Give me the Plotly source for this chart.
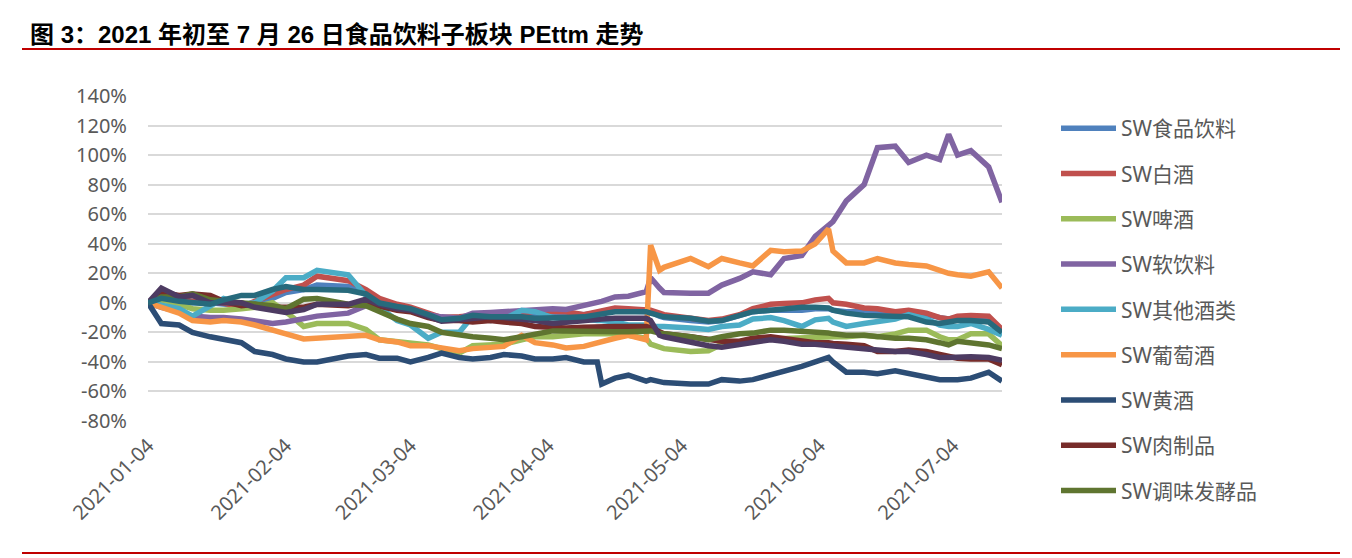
import plotly.graph_objects as go

# ---------------- data ----------------
dates = ["2021-01-04","2021-01-07","2021-01-11","2021-01-14","2021-01-18","2021-01-21","2021-01-25","2021-01-28",
         "2021-02-01","2021-02-04","2021-02-08","2021-02-11","2021-02-18","2021-02-22","2021-02-25","2021-03-01",
         "2021-03-04","2021-03-08","2021-03-11","2021-03-15","2021-03-18","2021-03-22","2021-03-25","2021-03-29",
         "2021-04-01","2021-04-05","2021-04-08","2021-04-12","2021-04-15","2021-04-16","2021-04-19","2021-04-22",
         "2021-04-26","2021-04-27","2021-04-29","2021-04-30","2021-05-06","2021-05-10","2021-05-13","2021-05-17",
         "2021-05-20","2021-05-24","2021-05-27","2021-05-31","2021-06-03","2021-06-06","2021-06-07","2021-06-10",
         "2021-06-14","2021-06-17","2021-06-21","2021-06-24","2021-06-28","2021-07-01","2021-07-03","2021-07-05",
         "2021-07-08","2021-07-12","2021-07-15"]

sw_food_bev = [0,2,1,0,0,-1,-2,0,3,7,9,12,11,7,2,-2,-4,-8,-10,-10,-9,-9,-9,-8,-7,-7,-7,-8,-7,-6,-5,-5.5,
               -6,-6,-9,-10,-12,-13,-12,-9,-6,-5,-5,-5,-4,-4,-5,-6,-6,-7,-8,-7,-8,-10,-11,-10,-10,-11,-19]
sw_baijiu = [0,4,3,1,2,0,-3,1,6,9,12,18,15,9,3,-1,-3,-7,-10,-9.5,-8.5,-8.5,-8,-7,-5.5,-5.5,-6,-8,-6,-5,-3.5,-4,
             -5,-5,-7,-8,-10.5,-12,-11,-8,-4,-1,-0.5,0,2,3,0,-1,-3.5,-4,-6,-5,-7,-10,-11,-9,-8.5,-9,-18]
sw_beer = [0,2,-1,-4,-5,-5,-4,-3,0,-6,-16,-14,-14,-18,-25,-26,-27,-28.5,-31,-34,-29,-28.5,-28,-25,-23,-23,-22,-21,
           -21,-21,-21,-22,-24,-28,-30,-31,-33,-32.5,-28,-26,-25,-24.5,-24,-23.5,-23,-23,-23,-23,-22,-23,-21,-18.5,
           -18.5,-23,-25,-25,-21,-21,-29]
sw_soft_drink = [0,-3,-6,-9,-10,-10,-11,-12,-14,-13,-11,-9,-7,-2,-2,-4,-5,-8,-9.5,-10.5,-7,-6.5,-6,-5.5,-4.5,-4,
                 -4.5,-1.5,0,1,4,4.5,7.5,17,10,7,6.5,6.5,12,16.5,21,19,30,32,45,52,55,69,80,105,106,95,100,97,114,
                 100,103,92,68]
sw_other_liquor = [0,-2,-4,-9,-2,3,-1,0,8,17,17,22,19,5,-3,-12,-15,-24,-20,-20,-9,-12,-11,-5,-6,-10,-11,-11,-12,
                   -12,-13,-15,-15,-16,-16,-16,-17,-18,-16,-15,-11,-10,-12,-16,-11.5,-10.5,-13,-16,-14,-13,-11,-8,
                   -11,-15,-16,-16,-14,-18,-22]
sw_wine = [0,-3,-7,-12,-13,-12,-13,-15,-18,-21,-24.5,-24,-23,-22,-25,-26.5,-29,-29,-30.5,-32.5,-31,-30,-29.5,-22,
           -27,-28.5,-30.5,-29.5,-27,-26,-24,-22,-25,39,22,24,30,24.5,30,27,25,35.5,34.6,35,40,50,35,27,27,30,27,
           26,25,22,20,19,18,21,10]
sw_huangjiu = [0,-14,-15,-20,-23,-25,-27,-33,-35,-38,-40,-40,-36,-35,-37.5,-37.5,-40,-37,-34,-37,-38,-37,-35,-36,
               -38,-38,-37,-40,-40,-55,-51,-49,-53,-52,-53,-54,-55,-55,-52,-53,-52,-49,-46,-43,-40,-37,-40,-47,-47,
               -48,-46,-48,-50,-52,-52,-52,-51,-47,-53]
sw_meat = [0,7,5,6,5,1,-2,-1,-3,-3,-3,-1,-2,0,-2,-5,-6,-10,-12,-12,-13,-12,-13,-14,-16,-17,-17,-16.5,-16,-16,-16,
           -16,-16,-17,-20,-21,-23,-25,-26,-26,-24,-23,-24,-26,-27,-27,-27.5,-28,-29,-33,-33,-32,-33,-35,-36,-37.5,
           -38,-38,-42]
sw_condiment = [0,4,4,6,2,1,0,-1,-2,-4,2.5,3,-1,-2,-6,-11,-14,-16,-20,-22,-23,-24,-25,-23,-21,-19,-19,-19.5,-19.5,
                -19.5,-19.5,-19.5,-19,-19,-20.5,-21,-23,-25,-23,-21,-20.5,-18.5,-18.5,-19,-20,-20.5,-21,-22,-22,
                -23,-24,-24,-25,-27,-28.5,-26,-27,-28.5,-31]
sw_dairy = [0,10,4,5,0,0,0,-3,-5.5,-6.5,-4.5,-1,-1,2.5,-1,-4,-5,-9,-12.5,-11.5,-11,-9.5,-10,-11,-12,-14,-13,-12,
            -11,-11,-10.5,-10.5,-10.5,-12,-22,-23,-27,-29,-30,-28,-27,-25,-26,-28,-28,-29,-29.5,-30,-31,-32,-33,
            -33,-35,-37,-37,-36.5,-36.5,-37,-39]
sw_food_comp = [0,3,1,0,-1,2,5,5,9,11,9,9,8.5,6,0,-2.5,-4,-8,-11.5,-10.5,-8.5,-9.5,-9.5,-9.5,-10.5,-10.5,-10,-9.5,
                -8,-7.5,-6,-6,-6,-7,-9,-9.5,-10.5,-12.5,-12,-9,-6,-5,-4,-3,-3,-3.5,-5,-7,-8.5,-9,-9.5,-9.5,-13,
                -14,-13,-12,-12,-13,-20]

tick_dates = ["2021-01-04","2021-02-04","2021-03-04","2021-04-04","2021-05-04","2021-06-04","2021-07-04"]
y_ticks = [-80,-60,-40,-20,0,20,40,60,80,100,120,140]
y_tick_text = ["-80%","-60%","-40%","-20%","0%","20%","40%","60%","80%","100%","120%","140%"]

series = [
    ("SW食品饮料", sw_food_bev, "#4F81BD", True),
    ("SW白酒", sw_baijiu, "#C0504D", True),
    ("SW啤酒", sw_beer, "#9BBB59", True),
    ("SW软饮料", sw_soft_drink, "#8064A2", True),
    ("SW其他酒类", sw_other_liquor, "#4BACC6", True),
    ("SW葡萄酒", sw_wine, "#F79646", True),
    ("SW黄酒", sw_huangjiu, "#2C4D75", True),
    ("SW肉制品", sw_meat, "#772C2A", True),
    ("SW调味发酵品", sw_condiment, "#5F7530", True),
    ("SW乳品", sw_dairy, "#4D3B62", False),
    ("SW食品综合", sw_food_comp, "#276A7C", False),
]

# ---------------- layout geometry (pixels) ----------------
W, H = 1352, 558
L, R, T, B = 148, 1002, 96, 421

def px_x(p):
    return (p - L) / (R - L)

def px_y(p):
    return (B - p) / (B - T)

fig = go.Figure()
for i, (name, vals, color, show) in enumerate(series):
    fig.add_trace(go.Scatter(
        x=dates, y=vals, name=name, mode="lines",
        line=dict(color=color, width=5.5),
        showlegend=show, legendgroup="g%d" % i,
        hovertemplate="%{x}<br>" + name + ": %{y}%<extra></extra>",
    ))

tick_font = dict(family="Noto Sans, Noto Sans CJK SC", size=20, color="#595959")

fig.update_layout(
    width=W, height=H,
    margin=dict(l=L, r=W - R, t=T, b=H - B, pad=0),
    paper_bgcolor="white", plot_bgcolor="white",
    title=dict(
        text="<b>图 3：2021 年初至 7 月 26 日食品饮料子板块 PEttm 走势</b>",
        font=dict(family="Liberation Sans, Noto Sans CJK SC", size=24, color="black"),
        xref="container", yref="container", x=30 / W, y=1 - 35 / H,
        xanchor="left", yanchor="middle",
    ),
    xaxis=dict(
        type="date", range=["2021-01-04", "2021-07-15"],
        tickvals=tick_dates, ticktext=tick_dates, tickangle=-45,
        showgrid=False, showline=False, zeroline=False, ticks="",
        tickfont=tick_font, ticklabelstandoff=8,
    ),
    yaxis=dict(
        range=[-80, 140], tickvals=y_ticks, ticktext=y_tick_text,
        showgrid=True, gridcolor="#D9D9D9", gridwidth=1.5,
        zeroline=False, showline=False, ticks="",
        tickfont=tick_font, ticklabelstandoff=20,
    ),
    legend=dict(
        x=px_x(1056), y=px_y(108), xanchor="left", yanchor="top",
        font=dict(family="Noto Sans, Noto Sans CJK SC", size=21, color="#595959"),
        itemwidth=55, tracegroupgap=15, bgcolor="rgba(0,0,0,0)",
        maxheight=540,
    ),
    shapes=[
        dict(type="line", xref="paper", yref="paper", x0=px_x(22), x1=px_x(1340),
             y0=px_y(49), y1=px_y(49), line=dict(color="#C00000", width=2)),
        dict(type="line", xref="paper", yref="paper", x0=px_x(22), x1=px_x(1340),
             y0=px_y(553), y1=px_y(553), line=dict(color="#C00000", width=2)),
    ],
)

fig.write_html("out.html")
